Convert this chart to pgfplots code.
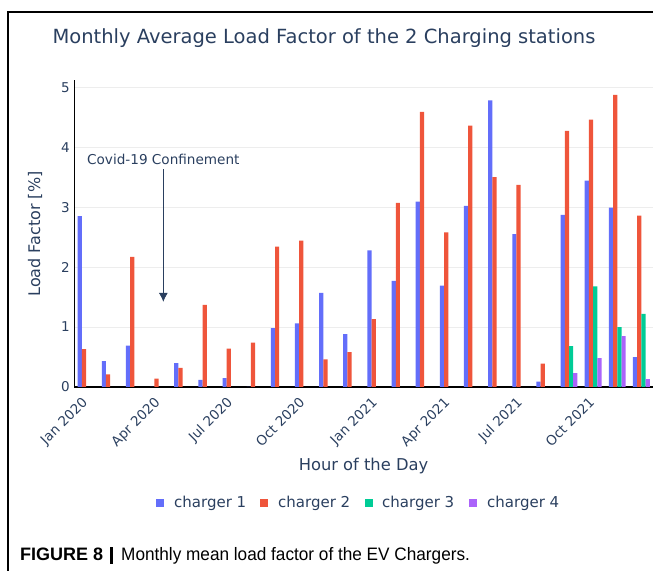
\documentclass[border=0pt]{standalone}
\usepackage{pgfplots}
\pgfplotsset{compat=1.18}
\usepackage{pgfplotstable}
\usepackage{fontspec}
\setmainfont{DejaVu Sans}
\newfontfamily\capfont{Liberation Sans}
\usetikzlibrary{arrows.meta}
\definecolor{txt}{HTML}{2A3F5F}
\definecolor{cA}{HTML}{636EFA}
\definecolor{cB}{HTML}{EF553B}
\definecolor{cC}{HTML}{00CC96}
\definecolor{cD}{HTML}{AB63FA}

% month index (0 = Jan 2020) and load factor [%]
\pgfplotstableread{
x y
0 2.85
1 0.43
2 0.69
3 0.00
4 0.40
5 0.12
6 0.15
7 0.00
8 0.98
9 1.06
10 1.57
11 0.88
12 2.28
13 1.77
14 3.09
15 1.69
16 3.02
17 4.78
18 2.55
19 0.09
20 2.87
21 3.44
22 2.99
23 0.50
}\chargerA
\pgfplotstableread{
x y
0 0.63
1 0.21
2 2.17
3 0.14
4 0.32
5 1.37
6 0.64
7 0.74
8 2.34
9 2.44
10 0.46
11 0.58
12 1.13
13 3.07
14 4.59
15 2.58
16 4.36
17 3.50
18 3.37
19 0.39
20 4.27
21 4.46
22 4.87
23 2.86
}\chargerB
\pgfplotstableread{
x y
20 0.68
21 1.68
22 1.00
23 1.22
}\chargerC
\pgfplotstableread{
x y
20 0.23
21 0.48
22 0.85
23 0.13
}\chargerD

\begin{document}
\begin{tikzpicture}[x=1bp,y=1bp]
\useasboundingbox (0,0) rectangle (653,571);
\draw[black, line width=1.3bp] (8,0) -- (8,559) -- (653,559);
\begin{axis}[
  at={(74bp,184bp)}, anchor=south west,
  scale only axis, width=579.5bp, height=307bp,
  xmin=-0.5, xmax=23.5, ymin=0, ymax=5.12,
  axis x line*=bottom, axis y line*=left,
  x axis line style={black, line width=1.8bp, -},
  y axis line style={black, line width=1bp, -},
  ytick={0,1,2,3,4,5},
  xtick={0,3,6,9,12,15,18,21},
  xticklabels={Jan 2020,Apr 2020,Jul 2020,Oct 2020,Jan 2021,Apr 2021,Jul 2021,Oct 2021},
  major tick length=0pt,
  ymajorgrids, grid style={color=black!7, line width=0.8bp},
  /pgf/number format/assume math mode=true,
  tick label style={font=\fontsize{13.5bp}{16bp}\selectfont, text=txt},
  xticklabel style={xshift=-5bp, yshift=-9bp, rotate=45, anchor=north east, inner sep=0pt},
  yticklabel style={anchor=east, inner sep=0pt, xshift=-4bp},
  ybar, bar width=0.175,
  every axis plot/.append style={draw=none},
  clip=false,
]
\addplot[fill=cA, bar shift=-0.2625] table[x=x,y=y] {\chargerA};
\addplot[fill=cB, bar shift=-0.0875] table[x=x,y=y] {\chargerB};
\addplot[fill=cC, bar shift=0.0875] table[x=x,y=y] {\chargerC};
\addplot[fill=cD, bar shift=0.2625] table[x=x,y=y] {\chargerD};
\node[text=txt, font=\fontsize{13.6bp}{16bp}\selectfont] at (axis cs:3.2,3.8) {Covid-19 Confinement};
\draw[txt, line width=0.8bp, -{Latex[length=9bp,width=9bp]}] (axis cs:3.2,3.63) -- (axis cs:3.2,1.42);
\end{axis}
% title and axis titles
\node[text=txt, font=\fontsize{19.5bp}{23bp}\selectfont] at (324,533) {Monthly Average Load Factor of the 2 Charging stations};
\node[text=txt, font=\fontsize{16.3bp}{20bp}\selectfont] at (363.5,105) {Hour of the Day};
\node[text=txt, font=\fontsize{16bp}{20bp}\selectfont, rotate=90] at (35,337) {Load Factor [\%]};
% legend
\begin{scope}[font=\fontsize{15bp}{18bp}\selectfont]
\fill[cA] (156,64) rectangle (164,72);
\node[text=txt, anchor=base west, inner sep=0pt] at (174,63) {charger 1};
\fill[cB] (260,64) rectangle (268,72);
\node[text=txt, anchor=base west, inner sep=0pt] at (278,63) {charger 2};
\fill[cC] (365,64) rectangle (373,72);
\node[text=txt, anchor=base west, inner sep=0pt] at (382,63) {charger 3};
\fill[cD] (469,64) rectangle (477,72);
\node[text=txt, anchor=base west, inner sep=0pt] at (487,63) {charger 4};
\end{scope}
% caption
\node[anchor=base west, inner sep=0pt, font=\capfont\fontsize{18bp}{21bp}\selectfont] at (20,10)
  {\textbf{FIGURE 8}\hspace{7bp}\raisebox{-3bp}{\rule{3bp}{17bp}}\hspace{8bp}\scalebox{0.955}[1]{Monthly mean load factor of the EV Chargers.}};
\end{tikzpicture}
\end{document}
